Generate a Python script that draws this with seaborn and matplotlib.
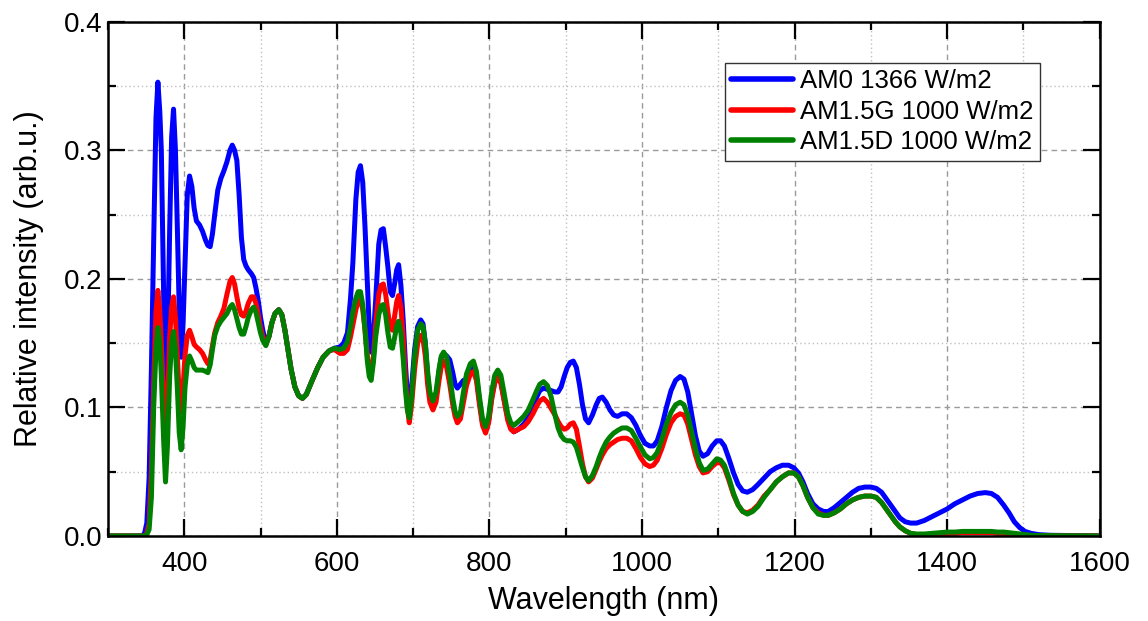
import numpy as np
import pandas as pd
import matplotlib
matplotlib.use('Agg')
import matplotlib.pyplot as plt
from matplotlib.ticker import MultipleLocator, FormatStrFormatter
import seaborn as sns

# ── Data (nm, relative intensity) ─────────────────────────────────────────────
wavelength = [
    300, 330, 345, 348, 351, 354, 357, 360, 363, 365.5, 368, 370, 373, 375.5, 378,
    381, 383.5, 386, 388.5, 391, 393.5, 396, 398.5, 401, 404, 407, 410, 413, 416,
    420, 424, 428, 431, 434, 437, 440, 444, 448, 452, 456, 460, 463, 466, 469,
    472, 475, 478, 481, 484, 488, 491, 494, 497, 500, 503, 507, 511, 515, 519,
    524, 528, 532, 536, 540, 545, 550, 555, 560, 567, 575, 582, 590, 597, 604,
    609, 614, 618, 621, 625, 628, 631, 634, 637, 640, 642.5, 645, 648, 651, 655,
    658, 661, 664, 667, 670, 673, 676, 678.5, 681, 684, 687, 690, 692.5, 695,
    698, 702, 706, 710, 713, 716, 719, 722, 726, 730, 734, 737, 740, 744, 748,
    752, 755, 758, 762, 766, 770, 775, 779, 783, 787, 791, 795, 799, 803, 807,
    811, 815, 819, 824, 828, 832, 838, 845, 851, 857, 862, 866, 871, 876, 881,
    886, 890, 894, 898, 902, 906, 910, 914, 918, 922, 926, 930, 935, 940, 944,
    948, 953, 958, 963, 968, 974, 980, 986, 992, 998, 1004, 1010, 1015, 1020,
    1026, 1032, 1038, 1044, 1050, 1055, 1060, 1065, 1070, 1075, 1080, 1086,
    1092, 1098, 1103, 1108, 1114, 1120, 1126, 1132, 1138, 1145, 1152, 1160,
    1168, 1176, 1184, 1192, 1199, 1205, 1211, 1217, 1224, 1231, 1238, 1244,
    1252, 1260, 1268, 1276, 1284, 1292, 1300, 1307, 1314, 1320, 1326, 1332,
    1338, 1345, 1352, 1360, 1370, 1380, 1390, 1400, 1410, 1420, 1430, 1440,
    1450, 1458, 1466, 1474, 1481, 1488, 1495, 1502, 1510, 1520, 1535, 1560, 1600,
]

am0 = [
    0, 0, 0, 0.002, 0.01, 0.045, 0.13, 0.23, 0.325, 0.353, 0.33, 0.30, 0.19, 0.085, 0.14,
    0.24, 0.31, 0.332, 0.30, 0.24, 0.175, 0.139, 0.165, 0.21, 0.265, 0.28, 0.272, 0.255, 0.245,
    0.242, 0.237, 0.230, 0.226, 0.225, 0.235, 0.250, 0.269, 0.278, 0.284, 0.291, 0.300, 0.304, 0.300, 0.292,
    0.265, 0.232, 0.215, 0.210, 0.207, 0.204, 0.201, 0.193, 0.183, 0.170, 0.160, 0.150, 0.155, 0.166, 0.173,
    0.176, 0.172, 0.160, 0.145, 0.130, 0.116, 0.109, 0.107, 0.110, 0.120, 0.131, 0.139, 0.144, 0.146, 0.147,
    0.150, 0.158, 0.185, 0.212, 0.262, 0.283, 0.288, 0.275, 0.240, 0.197, 0.162, 0.143, 0.155, 0.184, 0.227,
    0.238, 0.239, 0.225, 0.209, 0.190, 0.187, 0.197, 0.207, 0.211, 0.195, 0.168, 0.133, 0.110, 0.101,
    0.115, 0.145, 0.163, 0.168, 0.165, 0.150, 0.125, 0.108, 0.100, 0.108, 0.128, 0.139, 0.142, 0.140, 0.137,
    0.127, 0.118, 0.115, 0.118, 0.121, 0.122, 0.130, 0.133, 0.124, 0.105, 0.088, 0.082, 0.090, 0.108, 0.120,
    0.124, 0.120, 0.107, 0.092, 0.084, 0.081, 0.083, 0.087, 0.092, 0.100, 0.108, 0.113, 0.115, 0.114, 0.113,
    0.112, 0.112, 0.116, 0.124, 0.131, 0.135, 0.136, 0.131, 0.118, 0.102, 0.091, 0.088, 0.094, 0.102, 0.107,
    0.108, 0.104, 0.098, 0.094, 0.093, 0.095, 0.095, 0.092, 0.086, 0.078, 0.072, 0.070, 0.070, 0.074,
    0.085, 0.100, 0.113, 0.121, 0.124, 0.122, 0.112, 0.095, 0.078, 0.066, 0.062, 0.064,
    0.070, 0.074, 0.074, 0.070, 0.060, 0.049, 0.040, 0.035, 0.034, 0.036, 0.040, 0.045,
    0.050, 0.053, 0.055, 0.055, 0.053, 0.049, 0.042, 0.033, 0.025, 0.021, 0.019, 0.019,
    0.022, 0.026, 0.030, 0.034, 0.037, 0.038, 0.038, 0.037, 0.034, 0.029, 0.024, 0.019,
    0.014, 0.011, 0.010, 0.010, 0.012, 0.015, 0.018, 0.021, 0.025, 0.028, 0.031, 0.033,
    0.0337, 0.033, 0.030, 0.024, 0.018, 0.011, 0.0065, 0.0035, 0.002, 0.001, 0.0005, 0.0003, 0,
]

am15g = [
    0, 0, 0, 0, 0.002, 0.01, 0.05, 0.12, 0.175, 0.191, 0.175, 0.15, 0.11, 0.08, 0.10,
    0.155, 0.178, 0.186, 0.17, 0.14, 0.11, 0.096, 0.115, 0.14, 0.156, 0.160, 0.155, 0.149, 0.147,
    0.145, 0.142, 0.137, 0.134, 0.137, 0.148, 0.158, 0.166, 0.171, 0.177, 0.188, 0.198, 0.201, 0.196, 0.186,
    0.177, 0.172, 0.171, 0.175, 0.181, 0.186, 0.186, 0.181, 0.172, 0.162, 0.155, 0.149, 0.155, 0.166, 0.173,
    0.176, 0.172, 0.160, 0.145, 0.130, 0.116, 0.109, 0.107, 0.110, 0.120, 0.131, 0.139, 0.144, 0.145, 0.142,
    0.142, 0.145, 0.155, 0.164, 0.176, 0.183, 0.184, 0.176, 0.160, 0.140, 0.129, 0.126, 0.140, 0.165, 0.188,
    0.195, 0.196, 0.188, 0.174, 0.162, 0.160, 0.172, 0.182, 0.187, 0.178, 0.155, 0.122, 0.100, 0.088,
    0.102, 0.130, 0.150, 0.156, 0.153, 0.140, 0.118, 0.104, 0.098, 0.104, 0.121, 0.132, 0.136, 0.131, 0.118,
    0.102, 0.093, 0.088, 0.091, 0.104, 0.117, 0.126, 0.128, 0.121, 0.102, 0.086, 0.080, 0.088, 0.106, 0.119,
    0.123, 0.119, 0.106, 0.090, 0.083, 0.081, 0.083, 0.085, 0.089, 0.095, 0.101, 0.105, 0.107, 0.104, 0.099,
    0.094, 0.089, 0.085, 0.083, 0.084, 0.087, 0.088, 0.083, 0.070, 0.056, 0.046, 0.042, 0.045, 0.052, 0.058,
    0.063, 0.068, 0.071, 0.073, 0.075, 0.076, 0.076, 0.074, 0.068, 0.061, 0.056, 0.054, 0.055, 0.059,
    0.068, 0.079, 0.088, 0.093, 0.095, 0.094, 0.087, 0.075, 0.063, 0.054, 0.049, 0.050,
    0.054, 0.057, 0.057, 0.053, 0.043, 0.032, 0.024, 0.019, 0.018, 0.020, 0.024, 0.031,
    0.036, 0.042, 0.046, 0.049, 0.049, 0.046, 0.039, 0.030, 0.022, 0.018, 0.016, 0.016,
    0.018, 0.021, 0.025, 0.028, 0.030, 0.031, 0.031, 0.030, 0.026, 0.021, 0.016, 0.011,
    0.007, 0.004, 0.002, 0.001, 0.001, 0.0012, 0.0015, 0.002, 0.002, 0.0025, 0.0025, 0.0025,
    0.0025, 0.0025, 0.002, 0.002, 0.0015, 0.001, 0.0008, 0.0005, 0.0003, 0.0002, 0.0001, 0, 0,
]

am15d = [
    0, 0, 0, 0, 0.001, 0.005, 0.03, 0.10, 0.145, 0.162, 0.15, 0.125, 0.075, 0.042, 0.07,
    0.125, 0.15, 0.159, 0.145, 0.115, 0.08, 0.067, 0.085, 0.115, 0.133, 0.140, 0.136, 0.131, 0.129,
    0.129, 0.129, 0.128, 0.127, 0.133, 0.145, 0.156, 0.163, 0.167, 0.170, 0.173, 0.178, 0.180, 0.176, 0.169,
    0.162, 0.157, 0.157, 0.163, 0.170, 0.176, 0.178, 0.174, 0.166, 0.158, 0.152, 0.148, 0.155, 0.166, 0.173,
    0.176, 0.172, 0.160, 0.145, 0.130, 0.116, 0.109, 0.107, 0.110, 0.120, 0.131, 0.139, 0.144, 0.146, 0.145,
    0.146, 0.151, 0.163, 0.174, 0.185, 0.190, 0.190, 0.180, 0.160, 0.136, 0.124, 0.121, 0.135, 0.155, 0.172,
    0.179, 0.180, 0.172, 0.158, 0.147, 0.146, 0.155, 0.163, 0.167, 0.158, 0.138, 0.113, 0.098, 0.092,
    0.108, 0.140, 0.160, 0.165, 0.163, 0.150, 0.128, 0.112, 0.105, 0.112, 0.130, 0.140, 0.143, 0.139, 0.125,
    0.107, 0.097, 0.093, 0.096, 0.112, 0.126, 0.134, 0.136, 0.128, 0.108, 0.091, 0.085, 0.093, 0.112, 0.125,
    0.129, 0.125, 0.112, 0.095, 0.088, 0.086, 0.089, 0.093, 0.098, 0.106, 0.113, 0.118, 0.120, 0.117, 0.108,
    0.094, 0.084, 0.078, 0.075, 0.074, 0.074, 0.073, 0.069, 0.061, 0.053, 0.046, 0.043, 0.047, 0.054, 0.061,
    0.067, 0.073, 0.077, 0.080, 0.082, 0.084, 0.084, 0.082, 0.076, 0.069, 0.063, 0.060, 0.061, 0.065,
    0.075, 0.087, 0.096, 0.102, 0.104, 0.102, 0.094, 0.081, 0.068, 0.057, 0.051, 0.052,
    0.056, 0.060, 0.059, 0.055, 0.045, 0.033, 0.024, 0.019, 0.017, 0.019, 0.023, 0.030,
    0.036, 0.042, 0.046, 0.049, 0.049, 0.046, 0.039, 0.030, 0.022, 0.017, 0.016, 0.016,
    0.018, 0.021, 0.025, 0.028, 0.030, 0.031, 0.031, 0.030, 0.026, 0.021, 0.016, 0.011,
    0.007, 0.004, 0.002, 0.0015, 0.0015, 0.002, 0.0025, 0.003, 0.003, 0.0035, 0.0035, 0.0035,
    0.0035, 0.0035, 0.003, 0.003, 0.0025, 0.002, 0.0015, 0.001, 0.0005, 0.0003, 0.0002, 0.0001, 0,
]

labels = ['AM0 1366 W/m2', 'AM1.5G 1000 W/m2', 'AM1.5D 1000 W/m2']
colors = ['#0000ff', '#ff0000', '#008000']

frames = []
for lab, vals in zip(labels, [am0, am15g, am15d]):
    frames.append(pd.DataFrame({'wavelength': wavelength, 'intensity': vals, 'spectrum': lab}))
df = pd.concat(frames, ignore_index=True)

# ── Plot ──────────────────────────────────────────────────────────────────────
sns.set_style('ticks')
plt.rcParams['font.family'] = ['Liberation Sans', 'DejaVu Sans']
plt.rcParams['text.color'] = 'black'
plt.rcParams['axes.labelcolor'] = 'black'
plt.rcParams['xtick.color'] = 'black'
plt.rcParams['ytick.color'] = 'black'

fig = plt.figure(figsize=(11.48, 6.21), dpi=100)
ax = fig.add_axes([0.094, 0.137, 0.864, 0.828])

sns.lineplot(data=df, x='wavelength', y='intensity', hue='spectrum',
             hue_order=labels, palette=dict(zip(labels, colors)),
             linewidth=3.6, sort=False, ax=ax)

ax.set_xlim(300, 1600)
ax.set_ylim(0, 0.4)
ax.xaxis.set_major_locator(MultipleLocator(200))
ax.xaxis.set_minor_locator(MultipleLocator(100))
ax.yaxis.set_major_locator(MultipleLocator(0.1))
ax.yaxis.set_minor_locator(MultipleLocator(0.05))
ax.yaxis.set_major_formatter(FormatStrFormatter('%.1f'))

ax.grid(which='major', color='#9a9a9a', linestyle=(0, (4, 3)), linewidth=1.0)
ax.grid(which='minor', color='#c0c0c0', linestyle=(0, (1, 2)), linewidth=1.0)
ax.set_axisbelow(True)

ax.tick_params(which='major', direction='in', length=12, width=1.6,
               top=True, right=True, labelsize=20)
ax.tick_params(which='minor', direction='in', length=6, width=1.6,
               top=True, right=True)
ax.tick_params(axis='x', which='major', pad=11)
ax.tick_params(axis='y', which='major', pad=4)
for sp in ax.spines.values():
    sp.set_linewidth(1.8)
    sp.set_color('black')

ax.set_xlabel('Wavelength (nm)', fontsize=22, labelpad=6)
ax.set_ylabel('Relative intensity (arb.u.)', fontsize=22, labelpad=14)

leg = ax.legend(loc='upper right', bbox_to_anchor=(0.94, 0.92), borderaxespad=0,
                fontsize=18.5, frameon=True, fancybox=False, handlelength=2.4,
                handletextpad=0.3, borderpad=0.25, labelspacing=0.25, title=None)
leg.get_frame().set_edgecolor('#333333')
leg.get_frame().set_linewidth(1.0)
leg.get_frame().set_alpha(1.0)
for line in leg.get_lines():
    line.set_linewidth(4.0)

fig.savefig('out.png', dpi=100)
